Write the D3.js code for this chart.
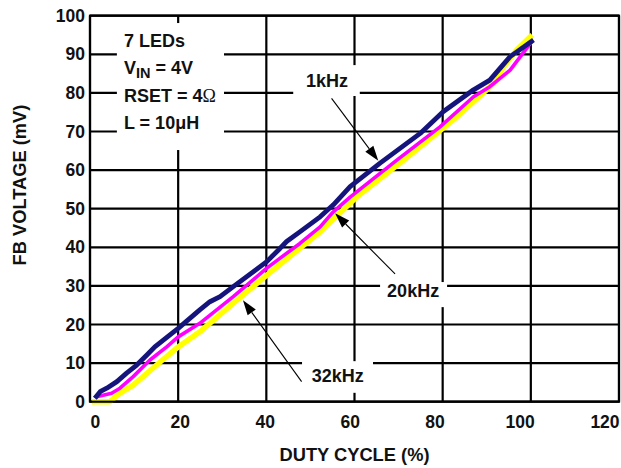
<!DOCTYPE html>
<html><head><meta charset="utf-8">
<script src="https://cdn.jsdelivr.net/npm/d3@7"></script>
<style>
body{margin:0;background:#fff;}
svg text{font-family:"Liberation Sans",Arial,Helvetica,sans-serif;font-weight:bold;fill:#111;}
</style></head>
<body>
<svg id="chart" width="621" height="468"></svg>
<script>
// ---- data ----
const xTicks = [0, 20, 40, 60, 80, 100, 120];
const yTicks = [0, 10, 20, 30, 40, 50, 60, 70, 80, 90, 100];
const xLabel = "DUTY CYCLE (%)";
const yLabel = "FB VOLTAGE (mV)";

const duty1k  = [1.1,2.3,3.8,6.1,8.3,10.6,12.9,14.7,20.0,24.9,27.2,29.5,32.5,40.1,43.1,44.6,47.6,52.2,55.2,59.0,65.8,74.9,80.1,87.0,90.7,95.3,100.6];
const fb1k    = [0.9,2.6,3.5,5.2,7.4,9.5,12.1,14.2,19.0,23.8,25.9,27.2,29.8,36.3,39.7,41.5,44.0,47.9,51.0,55.7,61.8,69.5,75.1,80.8,83.3,89.4,93.7];

const duty20k = [1.5,4.9,6.8,9.8,13.6,17.4,20.0,24.9,32.5,40.1,47.6,52.2,55.2,59.0,69.6,79.4,87.0,90.7,95.3,100.2];
const fb20k   = [1.3,2.2,3.5,6.5,10.8,14.2,16.8,20.3,27.2,34.6,41.0,45.3,49.2,53.0,62.6,71.2,79.0,81.6,85.9,93.3];

const duty32k = [0.4,4.5,6.8,9.8,15.1,20.0,24.9,32.5,40.1,52.2,59.0,60.5,70.3,82.4,90.0,92.3,93.8,96.8,100.3];
const fb32k   = [0.0,0.0,2.2,4.3,9.5,14.2,18.1,25.5,32.8,44.0,51.4,53.1,61.8,73.0,80.8,83.3,86.8,91.1,95.0];

const seriesNames = ["32kHz", "20kHz", "1kHz"];
const noteLines = ["7 LEDs", "V_IN = 4V", "RSET = 4Ω", "L = 10μH"];

// ---- layout ----
const svg = d3.select("#chart");
const x = d3.scaleLinear().domain([0, 120]).range([90, 619]);
const y = d3.scaleLinear().domain([0, 100]).range([401.7, 15.7]);
// tick labels in the original are spaced slightly tighter than the grid
const xLab = d3.scaleLinear().domain([0, 120]).range([95.3, 605]);

// grid
const g = svg.append("g");
g.selectAll("line.v").data(xTicks).join("line")
  .attr("x1", d => x(d)).attr("x2", d => x(d))
  .attr("y1", y(0)).attr("y2", y(100))
  .attr("stroke", "#000").attr("stroke-width", 2.2);
g.selectAll("line.h").data(yTicks).join("line")
  .attr("x1", x(0)).attr("x2", x(120))
  .attr("y1", d => y(d)).attr("y2", d => y(d))
  .attr("stroke", "#000").attr("stroke-width", 2.2);

// white boxes behind annotation text (data coords)
const boxes = [
  [6.1, 30.4, 98.1, 65.2],
  [46.1, 61.2, 87.2, 79.2],
  [65.8, 81.0, 31.0, 24.5],
  [48.1, 64.2, 10.5, 2.3]
];
svg.selectAll("rect.box").data(boxes).join("rect")
  .attr("x", d => x(d[0])).attr("width", d => x(d[1]) - x(d[0]))
  .attr("y", d => y(d[2])).attr("height", d => y(d[3]) - y(d[2]))
  .attr("fill", "#fff");

// curves
const line = d3.line().x(d => x(d[0])).y(d => y(d[1])).curve(d3.curveLinear);
const series = [
  {pts: d3.zip(duty32k, fb32k), color: "#ffff00", w: 5.5},
  {pts: d3.zip(duty20k, fb20k), color: "#ff00ff", w: 3.6},
  {pts: d3.zip(duty1k, fb1k),   color: "#14147c", w: 4.8}
];
svg.selectAll("path.s").data(series).join("path")
  .attr("d", d => line(d.pts)).attr("fill", "none")
  .attr("stroke", d => d.color).attr("stroke-width", d => d.w)
  .attr("stroke-linejoin", "round").attr("stroke-linecap", "butt");

// frame
svg.append("rect").attr("x", x(0)).attr("y", y(100))
  .attr("width", x(120) - x(0)).attr("height", y(0) - y(100))
  .attr("fill", "none").attr("stroke", "#000").attr("stroke-width", 2.2);

// tick labels
svg.selectAll("text.xt").data(xTicks).join("text")
  .attr("x", d => xLab(d)).attr("y", 428).attr("text-anchor", "middle")
  .attr("font-size", 17.5).text(d => d);
svg.selectAll("text.yt").data(yTicks).join("text")
  .attr("x", 85).attr("y", d => y(d) + 6).attr("text-anchor", "end")
  .attr("font-size", 17.5).text(d => d);

// axis titles
svg.append("text").attr("x", (x(0) + x(120)) / 2).attr("y", 461)
  .attr("text-anchor", "middle").attr("font-size", 18.3).text(xLabel);
svg.append("text").attr("transform", "translate(26,185) rotate(-90)")
  .attr("text-anchor", "middle").attr("font-size", 18.3).text(yLabel);

// condition note
const noteY = [91.97, 84.9, 77.7, 70.6];
noteLines.forEach((t, i) => {
  const tx = svg.append("text").attr("x", x(7.7)).attr("y", y(noteY[i])).attr("font-size", 18);
  if (t.includes("_")) {
    const [a, rest] = t.split("_");
    const sub = rest.slice(0, 2), tail = rest.slice(2);
    tx.append("tspan").text(a);
    tx.append("tspan").attr("font-size", 14.5).attr("dy", 4).text(sub);
    tx.append("tspan").attr("dy", -4).text(tail);
  } else if (t.includes("Ω")) {
    tx.append("tspan").text(t.replace("Ω", ""));
    tx.append("tspan").attr("font-family", "'Liberation Serif','DejaVu Serif',serif")
      .attr("font-weight", "normal").text("Ω");
  } else {
    tx.text(t);
  }
});

// series labels + arrows (data coords)
const labelPos = [[50.3, 5.2], [67.4, 27.2], [49.0, 81.5]];
svg.selectAll("text.lab").data(seriesNames).join("text")
  .attr("x", (d, i) => x(labelPos[i][0])).attr("y", (d, i) => y(labelPos[i][1]))
  .attr("font-size", 18).text(d => d);

const arrows = [
  [48.0, 5.2, 34.7, 26.3],
  [69.2, 33.1, 55.6, 48.8],
  [54.8, 78.6, 65.4, 62.4]
];
arrows.forEach(a => {
  const x1 = x(a[0]), y1 = y(a[1]), x2 = x(a[2]), y2 = y(a[3]);
  const ang = Math.atan2(y2 - y1, x2 - x1);
  const L = 15, W = 5;
  const bx = x2 - L * Math.cos(ang), by = y2 - L * Math.sin(ang);
  svg.append("line").attr("x1", x1).attr("y1", y1).attr("x2", bx).attr("y2", by)
    .attr("stroke", "#000").attr("stroke-width", 1.1);
  const px = -Math.sin(ang), py = Math.cos(ang);
  svg.append("path").attr("d",
    `M${x2},${y2}L${bx + W*px},${by + W*py}L${bx - W*px},${by - W*py}Z`)
    .attr("fill", "#000");
});
</script>
</body></html>
